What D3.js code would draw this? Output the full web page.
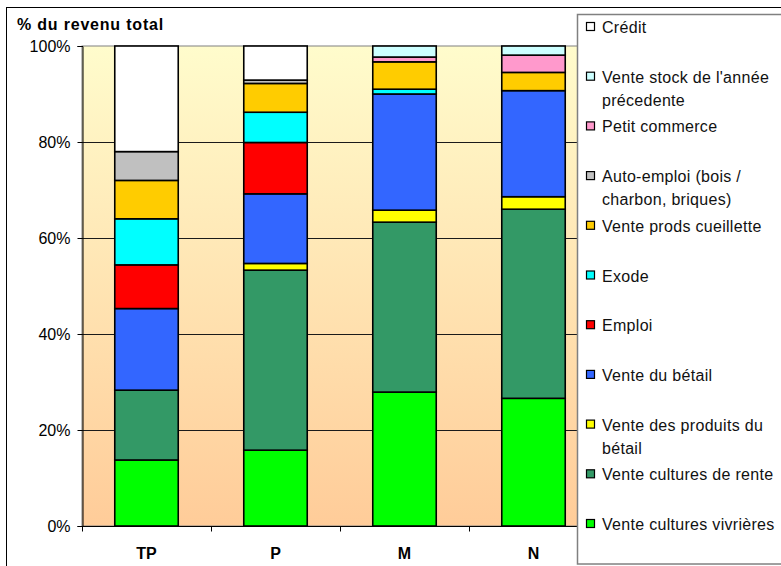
<!DOCTYPE html>
<html>
<head>
<meta charset="utf-8">
<script src="https://cdn.jsdelivr.net/npm/d3@7"></script>
<style>
  html, body { margin: 0; padding: 0; background: #fff; }
  svg { display: block; font-family: Arial, "Liberation Sans", sans-serif; }
</style>
</head>
<body>
<svg id="chart" width="781" height="566"></svg>
<script>
// Income groups
const categories = ["TP", "P", "M", "N"];

// Share of total income (%) by source, one array per source
const venteVivrieres = [13.75, 15.8, 27.9, 26.6];
const venteRente     = [14.55, 37.5, 35.4, 39.4];
const prodBetail     = [0, 1.4, 2.5, 2.6];
const venteBetail    = [17.0, 14.5, 24.2, 22.1];
const emploi         = [9.1, 10.7, 0, 0];
const exode          = [9.6, 6.3, 1.0, 0];
const cueillette     = [8.0, 6.0, 5.7, 3.8];
const autoEmploi     = [6.0, 0.7, 0, 0];
const petitCommerce  = [0, 0, 1.0, 3.6];
const venteStock     = [0, 0, 2.3, 1.9];
const credit         = [22.0, 7.1, 0, 0];

// Stack order from bottom to top
const seriesKeys = ["vivrieres", "rente", "prodBetail", "betail", "emploi", "exode",
                    "cueillette", "auto", "commerce", "stock", "credit"];
const seriesValues = [venteVivrieres, venteRente, prodBetail, venteBetail, emploi, exode,
                      cueillette, autoEmploi, petitCommerce, venteStock, credit];
const seriesColors = ["#00FF00", "#339966", "#FFFF00", "#3366FF", "#FF0000", "#00FFFF",
                      "#FFCC00", "#C0C0C0", "#FF99CC", "#CCFFFF", "#FFFFFF"];

// Legend entries, top to bottom (lines of each label)
const legendKeys = ["credit", "stock", "commerce", "auto", "cueillette", "exode",
                    "emploi", "betail", "prodBetail", "rente", "vivrieres"];
const legendLabels = [
  ["Crédit"],
  ["Vente stock de l'année", "précedente"],
  ["Petit commerce"],
  ["Auto-emploi (bois /", "charbon, briques)"],
  ["Vente prods cueillette"],
  ["Exode"],
  ["Emploi"],
  ["Vente du bétail"],
  ["Vente des produits du", "bétail"],
  ["Vente cultures de rente"],
  ["Vente cultures vivrières"]
];

const yTicks = [0, 20, 40, 60, 80, 100];
const yTitle = "% du revenu total";

const table = categories.map((c, i) => {
  const row = { cat: c };
  seriesKeys.forEach((k, j) => { row[k] = seriesValues[j][i]; });
  return row;
});
const color = d3.scaleOrdinal().domain(seriesKeys).range(seriesColors);

const svg = d3.select("#chart");
const plot = { left: 82, right: 598, top: 46, bottom: 526 };

// Outer frame
svg.append("rect")
  .attr("x", 6.5).attr("y", 7.5).attr("width", 800).attr("height", 600)
  .attr("fill", "#fff").attr("stroke", "#000").attr("stroke-width", 1);

const x = d3.scaleBand().domain(categories)
  .range([plot.left, plot.right]).paddingInner(0.508).paddingOuter(0.254);
const xBand = d3.scaleBand().domain(categories).range([plot.left, plot.right]);
const y = d3.scaleLinear().domain([0, 100]).range([plot.bottom, plot.top]);

// Plot background gradient
const defs = svg.append("defs");
const grad = defs.append("linearGradient").attr("id", "bg")
  .attr("x1", 0).attr("y1", 0).attr("x2", 0).attr("y2", 1);
grad.append("stop").attr("offset", "0%").attr("stop-color", "#FFFCCC");
grad.append("stop").attr("offset", "100%").attr("stop-color", "#FFCC99");

svg.append("rect")
  .attr("x", plot.left).attr("y", plot.top)
  .attr("width", plot.right - plot.left).attr("height", plot.bottom - plot.top)
  .attr("fill", "url(#bg)").attr("stroke", "#808080").attr("stroke-width", 1);

// Gridlines
svg.append("g").selectAll("line")
  .data(yTicks.filter(d => d > 0 && d < 100))
  .join("line")
  .attr("x1", plot.left).attr("x2", plot.right)
  .attr("y1", d => Math.round(y(d)) + 0.5).attr("y2", d => Math.round(y(d)) + 0.5)
  .attr("stroke", "#1a1a1a").attr("stroke-width", 1);

// Stacked bars
const stacked = d3.stack().keys(seriesKeys)(table);
svg.append("g").selectAll("g")
  .data(stacked)
  .join("g")
  .attr("fill", d => color(d.key))
  .selectAll("rect")
  .data(d => d.filter(s => s[1] - s[0] > 0))
  .join("rect")
  .attr("x", d => x(d.data.cat))
  .attr("width", x.bandwidth())
  .attr("y", d => y(d[1]))
  .attr("height", d => y(d[0]) - y(d[1]))
  .attr("stroke", "#000").attr("stroke-width", 1.6);

// Y axis
const yAxis = svg.append("g")
  .attr("transform", `translate(${plot.left + 0.5},0)`)
  .call(d3.axisLeft(y).tickValues(yTicks).tickFormat(d => d + "%").tickSize(5).tickPadding(7));
yAxis.select(".domain").attr("stroke", "#000");
yAxis.selectAll(".tick line").attr("stroke", "#000");
yAxis.selectAll("text").attr("font-size", 16).attr("fill", "#000")
  .attr("font-family", "Arial, 'Liberation Sans', sans-serif");

// X axis with ticks between groups
const xAxis = svg.append("g").attr("transform", `translate(0,${plot.bottom + 0.5})`);
xAxis.append("line")
  .attr("x1", plot.left).attr("x2", plot.right)
  .attr("stroke", "#000");
xAxis.selectAll(".sep")
  .data(categories)
  .join("line")
  .attr("class", "sep")
  .attr("x1", d => xBand(d) + 0.5).attr("x2", d => xBand(d) + 0.5)
  .attr("y1", 0).attr("y2", 5)
  .attr("stroke", "#000");
xAxis.selectAll("text")
  .data(categories)
  .join("text")
  .attr("x", d => xBand(d) + xBand.bandwidth() / 2)
  .attr("y", 32)
  .attr("text-anchor", "middle")
  .attr("font-size", 16).attr("font-weight", "bold")
  .text(d => d);

// Axis title
svg.append("text")
  .attr("x", 17).attr("y", 30)
  .attr("font-size", 16).attr("font-weight", "bold")
  .attr("letter-spacing", 0.8)
  .text(yTitle);

// Legend
const legend = svg.append("g");
legend.append("rect")
  .attr("x", 577.5).attr("y", 14.5).attr("width", 260).attr("height", 549.5)
  .attr("fill", "#fff").attr("stroke", "#808080").attr("stroke-width", 1.5);

const ly = d3.scaleLinear().domain([0, legendKeys.length - 1]).range([27, 524]);
const items = legend.selectAll(".item")
  .data(legendKeys)
  .join("g")
  .attr("class", "item")
  .attr("transform", (d, i) => `translate(0,${ly(i)})`);
items.append("rect")
  .attr("x", 586.5).attr("y", -4.5).attr("width", 8).attr("height", 8)
  .attr("fill", d => color(d)).attr("stroke", "#000").attr("stroke-width", 1.2);
items.append("text")
  .attr("x", 602).attr("y", 6)
  .attr("font-size", 16).attr("letter-spacing", 0.3).attr("fill", "#111")
  .selectAll("tspan")
  .data((d, i) => legendLabels[i])
  .join("tspan")
  .attr("x", 602)
  .attr("dy", (t, j) => j === 0 ? 0 : 23)
  .text(t => t);
</script>
</body>
</html>
